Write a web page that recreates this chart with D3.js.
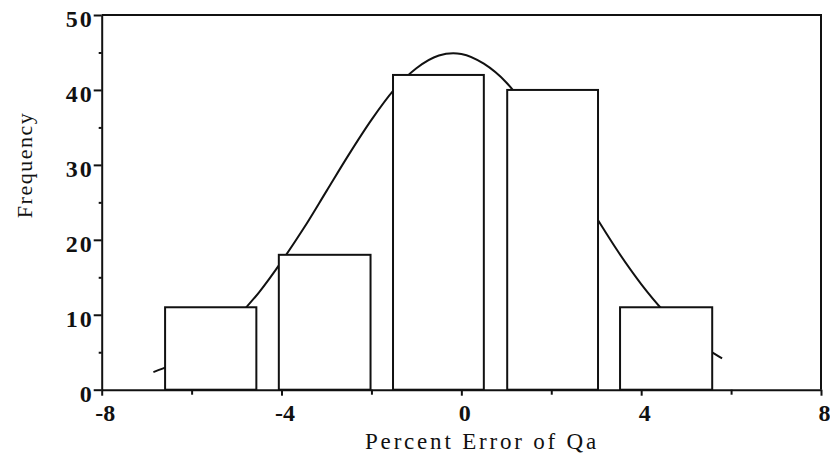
<!DOCTYPE html>
<html>
<head>
<meta charset="utf-8">
<script src="https://cdn.jsdelivr.net/npm/d3@7"></script>
<style>
  html, body { margin: 0; padding: 0; background: #fff; }
  svg { display: block; }
</style>
</head>
<body>
<svg id="chart" width="830" height="454"></svg>
<script>
// Histogram bins: left/right edges (percent error) and counts
const binStart = [-6.59, -4.06, -1.52, 1.02, 3.53];
const binEnd   = [-4.56, -2.02, 0.50, 3.04, 5.58];
const counts   = [11, 18, 42, 40, 11];

// Fitted normal curve, sampled points
const curveX = [-6.85, -6.5, -6.0, -5.5, -5.0, -4.5, -4.0, -3.5, -3.0, -2.5, -2.0, -1.5, -1.0, -0.5, -0.18, 0.0, 0.5, 1.0, 1.5, 2.0, 2.5, 3.0, 3.5, 4.0, 4.5, 5.0, 5.5, 5.8];
const curveY = [2.35, 3.17, 4.75, 6.87, 9.62, 13.0, 17.1, 21.6, 26.5, 31.4, 36.0, 40.0, 42.9, 44.6, 44.9, 44.8, 43.5, 41.0, 37.2, 32.8, 27.9, 23.0, 18.3, 14.1, 10.5, 7.58, 5.29, 4.19];

// Axis ticks
const xMajor = [-8, -4, 0, 4, 8];
const xMinor = [-6, -2, 2, 6];
const yMajor = [0, 10, 20, 30, 40, 50];
const yMinor = [5, 15, 25, 35, 45];

const xTitle = "Percent Error of Qa";
const yTitle = "Frequency";

const svg = d3.select("#chart");
const font = "'Liberation Serif', 'Times New Roman', serif";

const x = d3.scaleLinear().domain([-8, 8]).range([101.7, 821]);
const y = d3.scaleLinear().domain([0, 50]).range([389.7, 15]);

const ink = "#111";
const plain = d => String(d); // hyphen-minus, as printed

// Fitted curve (drawn first, bars cover it)
const line = d3.line()
  .x((d, i) => x(curveX[i]))
  .y(d => y(d))
  .curve(d3.curveMonotoneX);
svg.append("path")
  .attr("d", line(curveY))
  .attr("fill", "none")
  .attr("stroke", ink)
  .attr("stroke-width", 2);

// Bars
svg.append("g").selectAll("rect")
  .data(counts)
  .join("rect")
  .attr("x", (d, i) => x(binStart[i]))
  .attr("width", (d, i) => x(binEnd[i]) - x(binStart[i]))
  .attr("y", d => y(d))
  .attr("height", d => y(0) - y(d))
  .attr("fill", "#fff")
  .attr("stroke", ink)
  .attr("stroke-width", 2);

// Frame (top and right edges)
svg.append("path")
  .attr("d", `M${x(-8)},${y(50)}H${x(8)}V${y(0)}`)
  .attr("fill", "none")
  .attr("stroke", ink)
  .attr("stroke-width", 2);

// X axis
const xAxis = svg.append("g").attr("transform", `translate(0,${y(0)})`);
xAxis.call(d3.axisBottom(x).tickValues(xMajor).tickSize(6).tickSizeOuter(0).tickFormat(plain));
xAxis.append("g").call(d3.axisBottom(x).tickValues(xMinor).tickSize(5).tickSizeOuter(0).tickFormat(""))
  .select(".domain").remove();

// Y axis
const yAxis = svg.append("g").attr("transform", `translate(${x(-8)},0)`);
yAxis.call(d3.axisLeft(y).tickValues(yMajor).tickSize(8).tickSizeOuter(0).tickPadding(0).tickFormat(plain));
yAxis.append("g").call(d3.axisLeft(y).tickValues(yMinor).tickSize(3).tickSizeOuter(0).tickFormat(""))
  .select(".domain").remove();

svg.selectAll(".domain").attr("stroke", ink).attr("stroke-width", 2);
svg.selectAll(".tick line").attr("stroke", ink).attr("stroke-width", 2);

xAxis.selectAll(".tick text")
  .attr("font-family", font)
  .attr("font-size", 24)
  .attr("font-weight", "bold")
  .attr("fill", ink)
  .attr("dx", 3)
  .attr("y", 14)
  .attr("dy", "0.71em");

yAxis.selectAll(".tick text")
  .attr("font-family", font)
  .attr("font-size", 24)
  .attr("font-weight", "bold")
  .attr("letter-spacing", 2)
  .attr("fill", ink)
  .attr("dy", "0.48em");

// Axis titles
svg.append("text")
  .attr("x", 482)
  .attr("y", 449)
  .attr("text-anchor", "middle")
  .attr("font-family", font)
  .attr("font-size", 23)
  .attr("letter-spacing", 2.8)
  .attr("fill", ink)
  .text(xTitle);

svg.append("text")
  .attr("transform", "translate(32,165) rotate(-90)")
  .attr("text-anchor", "middle")
  .attr("font-family", font)
  .attr("font-size", 22)
  .attr("letter-spacing", 1.5)
  .attr("fill", ink)
  .text(yTitle);
</script>
</body>
</html>
